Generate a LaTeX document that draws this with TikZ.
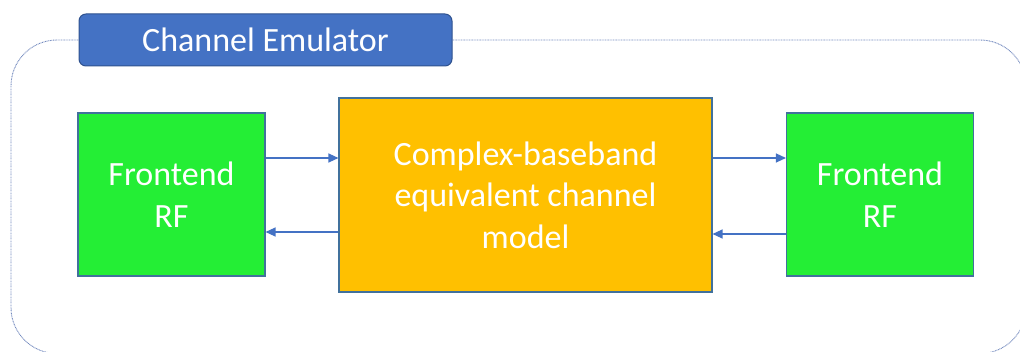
\documentclass[tikz,border=0pt]{standalone}
\usepackage{fontspec}
\setmainfont{Carlito}
\usetikzlibrary{arrows.meta}
\definecolor{frameline}{RGB}{115,138,190}
\definecolor{titleblue}{HTML}{4472C4}
\definecolor{titleedge}{HTML}{2F528F}
\definecolor{boxedge}{HTML}{41719C}
\definecolor{rfgreen}{RGB}{36,238,53}
\definecolor{modelorange}{HTML}{FFC000}
\tikzset{
  blocktext/.style={font=\fontsize{34}{41.5}\selectfont, text=white, align=center, inner sep=0pt},
  rfbox/.style={blocktext, draw=boxedge, line width=1.1pt, fill=rfgreen, minimum width=187pt, minimum height=163pt},
  modelbox/.style={blocktext, draw=boxedge, line width=1.1pt, fill=modelorange, minimum width=373pt, minimum height=194pt},
  titlebox/.style={blocktext, draw=titleedge, line width=1pt, fill=titleblue, rounded corners=7pt, minimum width=373pt, minimum height=52pt},
  link/.style={draw=titleblue, line width=1.3pt, -{Triangle[length=10pt,width=9pt]}},
}
\begin{document}
\begin{tikzpicture}[x=1pt,y=-1pt]
  \useasboundingbox (0,0) rectangle (1020,352);
  % dotted emulator enclosure (runs past the right and bottom edges)
  \begin{scope}
    \clip (0,0) rectangle (1020,352);
    \draw[frameline, line width=0.9pt, dash pattern=on 0.9pt off 0.7pt, rounded corners=46pt]
      (11,40) rectangle (1026,353.5);
  \end{scope}
  % title tab
  \node[titlebox] (title) at (265.5,40) {Channel Emulator};
  % blocks
  \node[rfbox] (rfL) at (171.5,194.5) {Frontend\\RF};
  \node[modelbox] (model) at (525.5,195) {Complex-baseband\\equivalent channel\\model};
  \node[rfbox] (rfR) at (880,194.5) {Frontend\\RF};
  % tap points for the signal paths
  \coordinate (lOut) at ([yshift=36.5pt]rfL.east);
  \coordinate (lIn)  at ([yshift=-37.5pt]rfL.east);
  \coordinate (rIn)  at ([yshift=36.5pt]rfR.west);
  \coordinate (rOut) at ([yshift=-39.5pt]rfR.west);
  % signal paths
  \draw[link] (lOut) -- (model.west |- lOut);
  \draw[link] (model.west |- lIn) -- (lIn);
  \draw[link] (model.east |- rIn) -- (rIn);
  \draw[link] (rOut) -- (model.east |- rOut);
\end{tikzpicture}
\end{document}
